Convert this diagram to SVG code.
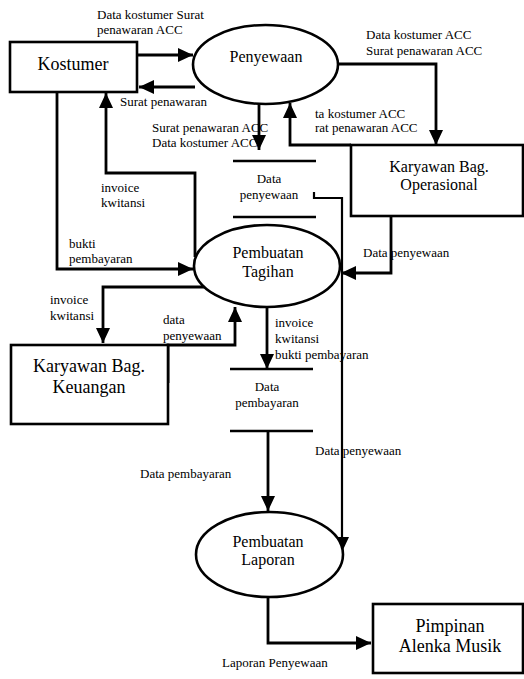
<svg xmlns="http://www.w3.org/2000/svg" width="524" height="679" viewBox="0 0 524 679">
<defs>
<marker id="ah" markerUnits="userSpaceOnUse" markerWidth="16" markerHeight="14" refX="15" refY="7" orient="auto">
<path d="M0,0 L15,7 L0,14 z" fill="#000"/>
</marker>
<style>
.n{fill:#fff;stroke:#000;stroke-width:2.6}
.c{fill:none;stroke:#000;stroke-width:2.8;marker-end:url(#ah)}
.s{stroke:#000;stroke-width:2.6}
text{font-family:'Liberation Serif','Tinos','Times New Roman','DejaVu Serif','Noto Serif',serif;fill:#000}
.l{font-size:13px}
.b{font-size:18px;text-anchor:middle}
.e{font-size:16px;text-anchor:middle}
.m{font-size:13px;text-anchor:middle}
</style>
</defs>
<rect width="524" height="679" fill="#fff"/>
<g id="labels">
<text class="l" x="97" y="19">Data kostumer Surat</text>
<text class="l" x="97" y="34">penawaran ACC</text>
<text class="l" x="120" y="106">Surat penawaran</text>
<text class="l" x="152" y="132">Surat penawaran ACC</text>
<text class="l" x="152" y="147">Data kostumer ACC</text>
<text class="l" x="366" y="39">Data kostumer ACC</text>
<text class="l" x="366" y="55">Surat penawaran ACC</text>
<text class="l" x="315" y="118">ta kostumer ACC</text>
<text class="l" x="315" y="132">rat penawaran ACC</text>
<text class="l" x="101" y="192">invoice</text>
<text class="l" x="101" y="207">kwitansi</text>
<text class="l" x="69" y="248">bukti</text>
<text class="l" x="69" y="263">pembayaran</text>
<text class="l" x="363" y="257">Data penyewaan</text>
<text class="l" x="50" y="304">invoice</text>
<text class="l" x="50" y="320">kwitansi</text>
<text class="l" x="163" y="324">data</text>
<text class="l" x="163" y="340">penyewaan</text>
<text class="l" x="275" y="327">invoice</text>
<text class="l" x="275" y="343">kwitansi</text>
<text class="l" x="275" y="359">bukti pembayaran</text>
<text class="l" x="315" y="455">Data penyewaan</text>
<text class="l" x="140" y="478">Data pembayaran</text>
<text class="l" x="222" y="667">Laporan Penyewaan</text>
</g>
<g id="connectors">
<path class="c" d="M137,55 L193,55"/>
<path class="c" d="M195,87 L139,87"/>
<path class="c" d="M57,92 L57,269 L193,269"/>
<path class="c" d="M195,257 L195,173 L106,173 L106,93"/>
<path class="c" d="M259,102 L259,150"/>
<path class="c" d="M338,64 L436,64 L436,145"/>
<path class="c" d="M351,145 L290,145 L290,103"/>
<path class="c" d="M391,216 L391,273 L341,273"/>
<path class="c" style="stroke-width:2.2" d="M314,192 L314,198 L342,198 L342,552"/>
<path class="c" d="M206,287 L103,287 L103,343"/>
<path class="c" d="M168,383 L168,345 L235,345 L235,307"/>
<path class="c" d="M267,307 L267,369"/>
<path class="c" d="M268,432 L268,511"/>
<path class="c" d="M268,597 L268,643 L371,643"/>
</g>
<g id="kostumer">
<rect class="n" x="10" y="42" width="127" height="50"/>
<text class="b" x="73" y="70">Kostumer</text>
</g>
<g id="penyewaan">
<ellipse class="n" cx="265.5" cy="64.5" rx="72.5" ry="39.5"/>
<text class="e" x="266" y="62">Penyewaan</text>
</g>
<g id="operasional">
<rect class="n" x="351" y="145" width="172" height="71"/>
<text class="e" x="439" y="172">Karyawan Bag.</text>
<text class="e" x="439" y="190">Operasional</text>
</g>
<g id="data-penyewaan">
<line class="s" x1="233" y1="161" x2="316" y2="161"/>
<line class="s" x1="233" y1="217" x2="316" y2="217"/>
<text class="m" x="269" y="183">Data</text>
<text class="m" x="269" y="199">penyewaan</text>
</g>
<g id="pembuatan-tagihan">
<ellipse class="n" cx="267" cy="266" rx="73" ry="41"/>
<text class="e" x="268" y="258">Pembuatan</text>
<text class="e" x="268" y="277">Tagihan</text>
</g>
<g id="keuangan">
<rect class="n" x="11" y="345" width="157" height="79"/>
<text class="b" x="89" y="372">Karyawan Bag.</text>
<text class="b" x="89" y="393">Keuangan</text>
</g>
<g id="data-pembayaran">
<line class="s" x1="230" y1="369" x2="313" y2="369"/>
<line class="s" x1="230" y1="431" x2="313" y2="431"/>
<text class="m" x="267" y="391">Data</text>
<text class="m" x="267" y="407">pembayaran</text>
</g>
<g id="pembuatan-laporan">
<ellipse class="n" cx="269.5" cy="554.5" rx="73.5" ry="42.5"/>
<text class="e" x="268" y="547">Pembuatan</text>
<text class="e" x="268" y="565">Laporan</text>
</g>
<g id="pimpinan">
<rect class="n" x="373" y="604" width="150" height="69"/>
<text class="b" x="450" y="632">Pimpinan</text>
<text class="b" x="450" y="652">Alenka Musik</text>
</g>
</svg>
